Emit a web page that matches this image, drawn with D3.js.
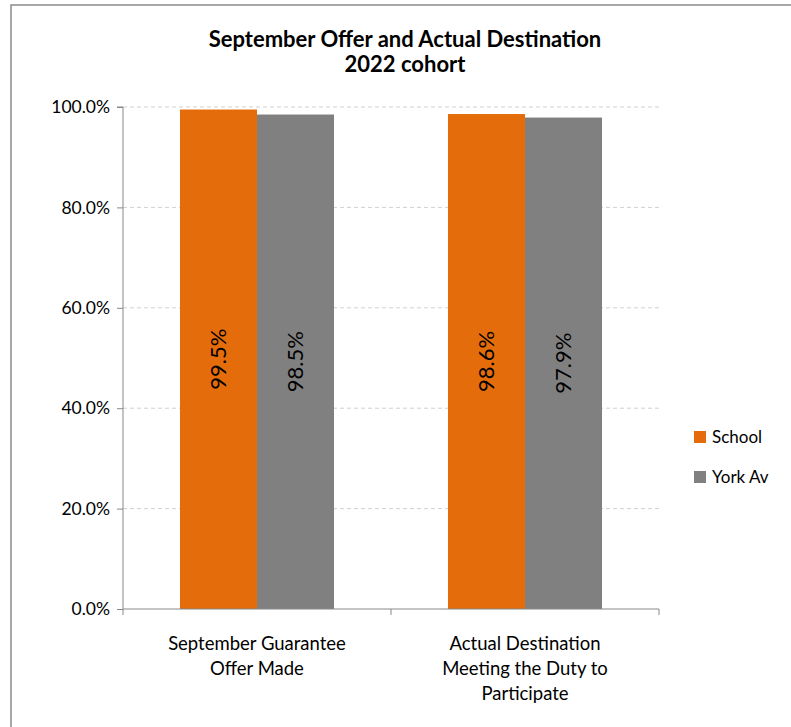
<!DOCTYPE html>
<html><head><meta charset="utf-8">
<script src="https://cdn.jsdelivr.net/npm/d3@7/dist/d3.min.js"></script>
<style>
html,body{margin:0;padding:0;background:#fff;}
svg{display:block;font-family:Lato,"Open Sans",sans-serif;}
</style></head>
<body>
<svg id="chart" width="791" height="727"></svg>
<script>
const categories = [["September Guarantee","Offer Made"],["Actual Destination","Meeting the Duty to","Participate"]];
const seriesNames = ["School","York Av"];
const schoolValues = [0.995, 0.986];
const yorkValues = [0.985, 0.979];
const yTicks = [0, 0.2, 0.4, 0.6, 0.8, 1.0];
const colors = ["#E46C0A","#808080"];
const titleLines = ["September Offer and Actual Destination","2022 cohort"];

const svg = d3.select("#chart");
// outer frame
svg.append("rect").attr("x",11).attr("y",5).attr("width",800).attr("height",760)
  .attr("fill","#fff").attr("stroke","#8c8c8c").attr("stroke-width",1.5);

const m = {left:123, right:659, top:107, bottom:609};
const x = d3.scaleBand().domain(d3.range(categories.length)).range([m.left,m.right]).paddingInner(0).paddingOuter(0);
const y = d3.scaleLinear().domain([0,1]).range([m.bottom,m.top]);
const inner = d3.scaleBand().domain(seriesNames).range([0,x.bandwidth()]).paddingInner(0).paddingOuter(0.74);

// gridlines
svg.append("g").selectAll("line").data(yTicks.filter(d=>d>0)).join("line")
  .attr("x1",m.left).attr("x2",m.right).attr("y1",d=>y(d)).attr("y2",d=>y(d))
  .attr("stroke","#d0d0d0").attr("stroke-width",1).attr("stroke-dasharray","4,3");

// bars
const data = categories.map((c,i)=>({i, vals:[schoolValues[i], yorkValues[i]]}));
const g = svg.append("g").selectAll("g").data(data).join("g").attr("transform",d=>`translate(${x(d.i)},0)`);
g.selectAll("rect").data(d=>d.vals.map((v,k)=>({v,k}))).join("rect")
  .attr("x",d=>inner(seriesNames[d.k])).attr("width",inner.bandwidth())
  .attr("y",d=>y(d.v)).attr("height",d=>y(0)-y(d.v)).attr("fill",d=>colors[d.k]);
g.selectAll("text").data(d=>d.vals.map((v,k)=>({v,k}))).join("text")
  .attr("transform",d=>`translate(${inner(seriesNames[d.k])+inner.bandwidth()/2},${(y(d.v)+y(0))/2}) rotate(-90)`)
  .attr("text-anchor","middle").attr("dy","0.35em").attr("font-size",22).attr("fill","#000")
  .text(d=>(d.v*100).toFixed(1)+"%");

// y axis
const yAxis = d3.axisLeft(y).tickValues(yTicks).tickFormat(d=>(d*100).toFixed(1)+"%").tickSize(6).tickPadding(7);
const ya = svg.append("g").attr("transform",`translate(${m.left},0)`).call(yAxis);
ya.select(".domain").attr("stroke","#888").attr("d",`M-6,${m.top}H0V${m.bottom}`);
ya.selectAll(".tick line").attr("stroke","#888");
ya.selectAll(".tick text").attr("font-size",17.5).attr("fill","#000").attr("font-family","Lato,'Open Sans',sans-serif");

// x axis
const xa = svg.append("g");
xa.append("line").attr("x1",m.left).attr("x2",m.right).attr("y1",m.bottom).attr("y2",m.bottom).attr("stroke","#888");
xa.selectAll("line.t").data(d3.range(categories.length+1)).join("line").attr("class","t")
  .attr("x1",i=>m.left+i*x.bandwidth()).attr("x2",i=>m.left+i*x.bandwidth())
  .attr("y1",m.bottom).attr("y2",m.bottom+6).attr("stroke","#888");
xa.selectAll("text").data(categories.map((c,i)=>({c,i}))).join("text")
  .attr("x",d=>x(d.i)+x.bandwidth()/2).attr("y",m.bottom+41)
  .attr("text-anchor","middle").attr("font-size",18.5).attr("fill","#000")
  .each(function(d){
    d3.select(this).selectAll("tspan").data(d.c).join("tspan")
      .attr("x",x(d.i)+x.bandwidth()/2).attr("dy",(t,j)=>j===0?0:25).text(t=>t);
  });

// title
svg.append("text").attr("x",405).attr("y",47).attr("text-anchor","middle")
  .attr("font-size",22).attr("font-weight","bold").attr("fill","#000")
  .selectAll("tspan").data(titleLines).join("tspan").attr("x",405).attr("dy",(t,j)=>j===0?0:25).text(t=>t);

// legend
const lg = svg.append("g").selectAll("g").data(seriesNames).join("g")
  .attr("transform",(d,i)=>`translate(694,${437+i*40})`);
lg.append("rect").attr("x",0).attr("y",-6).attr("width",12).attr("height",12).attr("fill",(d,i)=>colors[i]);
lg.append("text").attr("x",18).attr("dy","0.35em").attr("font-size",17).attr("fill","#000").text(d=>d);
</script>
</body></html>
